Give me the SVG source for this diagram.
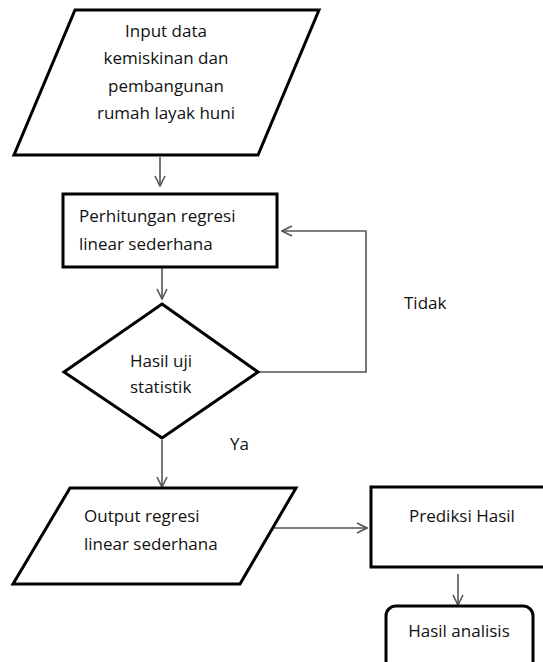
<svg xmlns="http://www.w3.org/2000/svg" width="543" height="662" viewBox="0 0 543 662">
  <defs>
    <style>
      .shape { fill: #ffffff; stroke: #000000; stroke-width: 3; stroke-linejoin: miter; }
      .conn { fill: none; stroke: #555555; stroke-width: 1.6; }
      .txt { font-family: "Open Sans", "Liberation Sans", sans-serif; font-size: 17px; fill: #111111; }
      .mid { text-anchor: middle; }
    </style>
    <marker id="arrow" viewBox="0 0 12 12" refX="11" refY="6" markerWidth="12" markerHeight="12" markerUnits="userSpaceOnUse" orient="auto">
      <path d="M1,1 L11,6 L1,11" fill="none" stroke="#555555" stroke-width="1.6"/>
    </marker>
  </defs>
  <rect width="543" height="662" fill="#ffffff"/>

  <g id="connectors">
    <line class="conn" x1="160" y1="157" x2="160" y2="186" marker-end="url(#arrow)"/>
    <line class="conn" x1="162" y1="268" x2="162" y2="299" marker-end="url(#arrow)"/>
    <polyline class="conn" points="258,372 366,372 366,231 282,231" marker-end="url(#arrow)"/>
    <line class="conn" x1="162" y1="440" x2="162" y2="487" marker-end="url(#arrow)"/>
    <line class="conn" x1="273" y1="528" x2="367" y2="528" marker-end="url(#arrow)"/>
    <line class="conn" x1="458" y1="574" x2="458" y2="605" marker-end="url(#arrow)"/>
  </g>

  <g id="input">
    <polygon class="shape" points="75,10 319,10 258,155 14,155"/>
    <text class="txt mid" x="166" y="37">Input data</text>
    <text class="txt mid" x="166" y="64">kemiskinan dan</text>
    <text class="txt mid" x="166" y="92">pembangunan</text>
    <text class="txt mid" x="166" y="119">rumah layak huni</text>
  </g>

  <g id="perhitungan">
    <rect class="shape" x="63" y="194" width="214" height="73"/>
    <text class="txt" x="79" y="222">Perhitungan regresi</text>
    <text class="txt" x="79" y="250">linear sederhana</text>
  </g>

  <g id="uji">
    <polygon class="shape" points="162,304 258,372 162,438 64,372"/>
    <text class="txt" x="130" y="367">Hasil uji</text>
    <text class="txt" x="130" y="393">statistik</text>
  </g>

  <g id="label-tidak">
    <text class="txt" x="404" y="309">Tidak</text>
  </g>
  <g id="label-ya">
    <text class="txt" x="230" y="450">Ya</text>
  </g>

  <g id="output">
    <polygon class="shape" points="70,488 296,488 240,584 13,584"/>
    <text class="txt" x="84" y="522">Output regresi</text>
    <text class="txt" x="84" y="550">linear sederhana</text>
  </g>

  <g id="prediksi">
    <rect class="shape" x="371" y="487" width="200" height="80"/>
    <text class="txt" x="409" y="522">Prediksi Hasil</text>
  </g>

  <g id="hasil-analisis">
    <rect class="shape" x="386" y="606" width="147" height="70" rx="10" ry="10"/>
    <text class="txt mid" x="459" y="637">Hasil analisis</text>
  </g>
</svg>
